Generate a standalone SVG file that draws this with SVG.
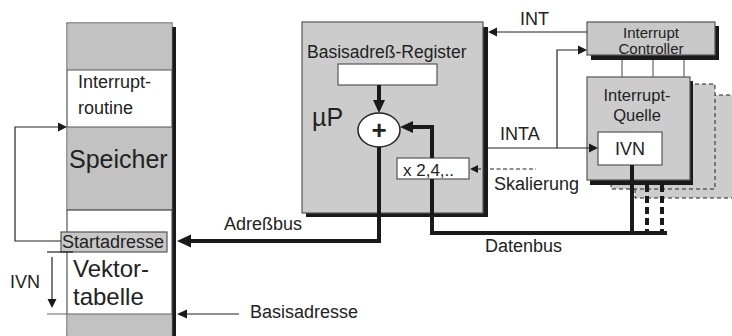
<svg xmlns="http://www.w3.org/2000/svg" width="732" height="336" viewBox="0 0 732 336">
<style>
text{font-family:"Liberation Sans",Arial,sans-serif;fill:#222}
.t18{font-size:18px}
.thin{stroke:#222;stroke-width:1.2;fill:none}
.thick{stroke:#1a1a1a;stroke-width:4;fill:none}
.g{fill:#c2c2c2}
.ah{fill:#1a1a1a}
</style>
<rect width="732" height="336" fill="#fff"/>
<g id="speicher">
<rect x="172" y="27" width="4" height="309" fill="#1a1a1a"/>
<rect x="67" y="23" width="105" height="313" fill="#fff" stroke="#555" stroke-width="1.2"/>
<rect x="67.6" y="23.6" width="104" height="46.4" class="g"/>
<rect x="67.6" y="127" width="104" height="83" class="g"/>
<rect x="67.6" y="314" width="104" height="22" class="g"/>
<line x1="67" y1="70" x2="172" y2="70" stroke="#555" stroke-width="1.2"/>
<line x1="67" y1="127" x2="172" y2="127" stroke="#555" stroke-width="1.2"/>
<line x1="67" y1="210" x2="172" y2="210" stroke="#222" stroke-width="1.2"/>
<line x1="47" y1="314" x2="172" y2="314" stroke="#666" stroke-width="1.2"/>
<text x="78" y="88" class="t18">Interrupt-</text>
<text x="78" y="114" class="t18">routine</text>
<text x="69" y="168" font-size="25">Speicher</text>
<text x="73" y="277" font-size="24">Vektor-</text>
<text x="73" y="305" font-size="24">tabelle</text>
</g>
<g id="startadresse">
<rect x="61" y="232" width="106" height="20" fill="#c8c8c8" stroke="#555" stroke-width="1.2"/>
<text x="62" y="248" class="t18">Startadresse</text>
</g>
<g id="mup">
<rect x="306" y="27" width="182" height="190" fill="#1a1a1a"/>
<rect x="302" y="22" width="181" height="191" fill="#cccccc" stroke="#555" stroke-width="1.2"/>
<text x="307" y="58" font-size="17.5">Basisadreß-Register</text>
<rect x="338" y="64" width="99" height="21" fill="#fff" stroke="#555" stroke-width="1.2"/>
<text x="312" y="126" font-size="25">µP</text>
</g>
<g id="addierer">
<ellipse cx="379" cy="130" rx="21" ry="17" fill="#fff" stroke="#222" stroke-width="1.5"/>
<text x="379" y="139" font-size="26" font-weight="bold" text-anchor="middle">+</text>
</g>
<g id="skalierung">
<rect x="397" y="158" width="72" height="21" fill="#fff" stroke="#555" stroke-width="1.2"/>
<text x="403" y="176" font-size="17">x 2,4,..</text>
</g>
<g id="controller">
<rect x="591" y="26" width="128" height="34" fill="#1a1a1a"/>
<rect x="587" y="22" width="128" height="33" fill="#c8c8c8" stroke="#555" stroke-width="1.2"/>
<text x="651" y="38" font-size="15" text-anchor="middle">Interrupt</text>
<text x="651" y="54" font-size="15" text-anchor="middle">Controller</text>
</g>
<g id="quelle-schatten">
<rect x="635" y="95" width="100" height="103" fill="#cccccc" stroke="#222" stroke-width="1" stroke-dasharray="4 3"/>
<rect x="611" y="84" width="104" height="105" fill="#cccccc" stroke="#222" stroke-width="1" stroke-dasharray="4 3"/>
</g>
<g id="quelle">
<rect x="590" y="81" width="103" height="104" fill="#1a1a1a"/>
<rect x="587" y="77" width="103" height="103" fill="#cccccc" stroke="#555" stroke-width="1.2"/>
<text x="637" y="101" font-size="16.5" text-anchor="middle">Interrupt-</text>
<text x="637" y="120.5" font-size="16.5" text-anchor="middle">Quelle</text>
<rect x="598" y="132" width="64" height="33" fill="#fff" stroke="#555" stroke-width="1.2"/>
<text x="630" y="155" class="t18" text-anchor="middle">IVN</text>
</g>
<g id="connectors">
<polyline class="thin" points="61,241 15,241 15,127 59,127"/>
<polygon class="ah" points="67,127 58,122.5 58,131.5"/>
<line x1="47" y1="252" x2="73" y2="252" stroke="#222" stroke-width="1.2"/>
<line class="thin" x1="52" y1="257" x2="52" y2="300"/>
<polygon class="ah" points="52,308 47.5,299 56.5,299"/>
<text x="10" y="288" class="t18">IVN</text>
<line class="thin" x1="186" y1="314" x2="239" y2="314"/>
<polygon class="ah" points="177,314 187,309.5 187,318.5"/>
<text x="250" y="318" class="t18">Basisadresse</text>
<line class="thick" x1="379" y1="85" x2="379" y2="102"/>
<polygon class="ah" points="379,113 373,100 385,100"/>
<polyline class="thick" points="432,158 432,127 411,127"/>
<polygon class="ah" points="400,127 413,121 413,133"/>
<polyline class="thick" points="379,147 379,241 189,241"/>
<polygon class="ah" points="177,241 191,234.5 191,247.5"/>
<text x="224" y="230" class="t18">Adreßbus</text>
<polyline class="thick" points="432,179 432,233 667,233"/>
<line class="thick" x1="632" y1="165" x2="632" y2="233"/>
<line class="thick" x1="647" y1="185" x2="647" y2="233" stroke-dasharray="7 4"/>
<line class="thick" x1="662" y1="185" x2="662" y2="233" stroke-dasharray="7 4"/>
<text x="485" y="252" class="t18">Datenbus</text>
<line x1="477" y1="169" x2="536" y2="169" stroke="#222" stroke-width="1.2" stroke-dasharray="4 2.5"/>
<polygon class="ah" points="470,169 478,165 478,173"/>
<text x="494" y="190" class="t18">Skalierung</text>
<line class="thin" x1="496" y1="32" x2="587" y2="32"/>
<polygon class="ah" points="488,32 497,27.5 497,36.5"/>
<text x="520" y="25" class="t18">INT</text>
<line class="thin" x1="488" y1="148" x2="590" y2="148"/>
<polygon class="ah" points="598,148 589,143.5 589,152.5"/>
<polyline class="thin" points="557,148 557,50 579,50"/>
<polygon class="ah" points="587,50 578,45.5 578,54.5"/>
<text x="500" y="140" class="t18">INTA</text>
<line x1="622" y1="60" x2="622" y2="77" stroke="#666" stroke-width="1.2"/>
<line x1="653" y1="60" x2="653" y2="77" stroke="#666" stroke-width="1.2"/>
<line x1="684" y1="60" x2="684" y2="77" stroke="#666" stroke-width="1.2"/>
</g>
</svg>
